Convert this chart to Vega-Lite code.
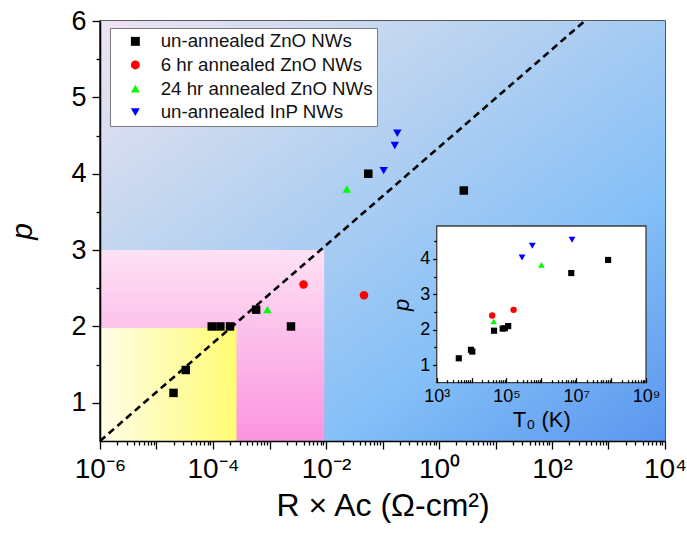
{
  "$schema": "https://vega.github.io/schema/vega-lite/v6.json",
  "width": 565,
  "height": 420,
  "autosize": "none",
  "padding": {"left": 100, "top": 21, "right": 22, "bottom": 104},
  "background": "white",
  "datasets": {
    "contact": [
      {"series": "un-annealed ZnO NWs", "rac": 2.0e-5, "p": 1.13},
      {"series": "un-annealed ZnO NWs", "rac": 3.3e-5, "p": 1.43},
      {"series": "un-annealed ZnO NWs", "rac": 9.5e-5, "p": 2.0},
      {"series": "un-annealed ZnO NWs", "rac": 1.35e-4, "p": 2.0},
      {"series": "un-annealed ZnO NWs", "rac": 2.0e-4, "p": 2.0},
      {"series": "un-annealed ZnO NWs", "rac": 5.8e-4, "p": 2.22},
      {"series": "un-annealed ZnO NWs", "rac": 2.4e-3, "p": 2.0},
      {"series": "un-annealed ZnO NWs", "rac": 0.056, "p": 4.0},
      {"series": "un-annealed ZnO NWs", "rac": 2.75, "p": 3.78},
      {"series": "6 hr annealed ZnO NWs", "rac": 4.0e-3, "p": 2.55},
      {"series": "6 hr annealed ZnO NWs", "rac": 0.047, "p": 2.41},
      {"series": "24 hr annealed ZnO NWs", "rac": 9.2e-4, "p": 2.22},
      {"series": "24 hr annealed ZnO NWs", "rac": 0.0234, "p": 3.8},
      {"series": "un-annealed InP NWs", "rac": 0.105, "p": 4.04},
      {"series": "un-annealed InP NWs", "rac": 0.165, "p": 4.37},
      {"series": "un-annealed InP NWs", "rac": 0.183, "p": 4.53}
    ],
    "fit": [
      {"rac": 1e-6, "p": 0.5},
      {"rac": 380, "p": 6.0}
    ],
    "hopping": [
      {"series": "un-annealed ZnO NWs", "t0": 4.3e3, "p": 1.19},
      {"series": "un-annealed ZnO NWs", "t0": 9.6e3, "p": 1.43},
      {"series": "un-annealed ZnO NWs", "t0": 1.05e4, "p": 1.38},
      {"series": "un-annealed ZnO NWs", "t0": 4.4e4, "p": 1.97},
      {"series": "un-annealed ZnO NWs", "t0": 7.8e4, "p": 2.03},
      {"series": "un-annealed ZnO NWs", "t0": 9.0e4, "p": 2.04},
      {"series": "un-annealed ZnO NWs", "t0": 1.12e5, "p": 2.1},
      {"series": "un-annealed ZnO NWs", "t0": 7.2e6, "p": 3.6},
      {"series": "un-annealed ZnO NWs", "t0": 8.2e7, "p": 3.97},
      {"series": "6 hr annealed ZnO NWs", "t0": 3.9e4, "p": 2.4},
      {"series": "6 hr annealed ZnO NWs", "t0": 1.6e5, "p": 2.56},
      {"series": "24 hr annealed ZnO NWs", "t0": 4.3e4, "p": 2.23},
      {"series": "24 hr annealed ZnO NWs", "t0": 1.0e6, "p": 3.83},
      {"series": "un-annealed InP NWs", "t0": 2.8e5, "p": 4.04},
      {"series": "un-annealed InP NWs", "t0": 5.5e5, "p": 4.37},
      {"series": "un-annealed InP NWs", "t0": 7.6e6, "p": 4.54}
    ]
  },
  "layer": [
    {
      "layer": [
        {
          "data": {"values": [{}]},
          "mark": {
            "type": "rect",
            "fill": {
              "gradient": "linear", "x1": 0, "y1": 0, "x2": 1, "y2": 1,
              "stops": [
                {"offset": 0, "color": "#eee3f4"},
                {"offset": 0.25, "color": "#c7d8ef"},
                {"offset": 0.5, "color": "#a3caf3"},
                {"offset": 0.7, "color": "#85c0f8"},
                {"offset": 1, "color": "#5a96ee"}
              ]
            }
          },
          "encoding": {
            "x": {"datum": 1e-6, "type": "quantitative", "axis": null},
            "x2": {"datum": 1e4},
            "y": {"datum": 0.5, "type": "quantitative", "axis": null},
            "y2": {"datum": 6}
          }
        },
        {
          "data": {"values": [{}]},
          "mark": {
            "type": "rect",
            "fill": {
              "gradient": "linear", "x1": 0, "y1": 0, "x2": 0, "y2": 1,
              "stops": [
                {"offset": 0, "color": "#fee1f4"},
                {"offset": 1, "color": "#fb94df"}
              ]
            }
          },
          "encoding": {
            "x": {"datum": 1e-6, "type": "quantitative", "axis": null},
            "x2": {"datum": 0.0093},
            "y": {"datum": 0.5, "type": "quantitative", "axis": null},
            "y2": {"datum": 3}
          }
        },
        {
          "data": {"values": [{}]},
          "mark": {
            "type": "rect",
            "fill": {
              "gradient": "linear", "x1": 0, "y1": 0, "x2": 1, "y2": 0,
              "stops": [
                {"offset": 0, "color": "#fffde8"},
                {"offset": 1, "color": "#fffc72"}
              ]
            }
          },
          "encoding": {
            "x": {"datum": 1e-6, "type": "quantitative", "axis": null},
            "x2": {"datum": 2.6e-4},
            "y": {"datum": 0.5, "type": "quantitative", "axis": null},
            "y2": {"datum": 1.98}
          }
        },
        {
          "data": {"name": "fit"},
          "mark": {"type": "line", "color": "black", "strokeWidth": 2.6, "strokeDash": [7, 4.5], "clip": true},
          "encoding": {
            "x": {
              "field": "rac", "type": "quantitative",
              "axis": {
                "orient": "bottom", "zindex": 1, "title": null, "labels": false, "domain": false, "grid": false,
                "tickSize": 4,
                "values": [2e-6, 3e-6, 4e-6, 5e-6, 6e-6, 7e-6, 8e-6, 9e-6,
                           2e-5, 3e-5, 4e-5, 5e-5, 6e-5, 7e-5, 8e-5, 9e-5,
                           2e-4, 3e-4, 4e-4, 5e-4, 6e-4, 7e-4, 8e-4, 9e-4,
                           2e-3, 3e-3, 4e-3, 5e-3, 6e-3, 7e-3, 8e-3, 9e-3,
                           2e-2, 3e-2, 4e-2, 5e-2, 6e-2, 7e-2, 8e-2, 9e-2,
                           0.2, 0.3, 0.4, 0.5, 0.6, 0.7, 0.8, 0.9,
                           2, 3, 4, 5, 6, 7, 8, 9,
                           20, 30, 40, 50, 60, 70, 80, 90,
                           200, 300, 400, 500, 600, 700, 800, 900,
                           2000, 3000, 4000, 5000, 6000, 7000, 8000, 9000]
              }
            },
            "y": {
              "field": "p", "type": "quantitative",
              "axis": {
                "orient": "left", "zindex": 1, "title": null, "labels": false, "domain": false, "grid": false,
                "tickSize": 4,
                "values": [1.5, 2.5, 3.5, 4.5, 5.5]
              }
            }
          }
        },
        {
          "data": {"name": "contact"},
          "mark": {"type": "point", "filled": true, "opacity": 1, "strokeWidth": 0},
          "encoding": {
            "x": {
              "field": "rac", "type": "quantitative",
              "scale": {"type": "log", "domain": [1e-6, 1e4], "nice": false},
              "axis": {
                "orient": "bottom", "zindex": 1,
                "title": "R × Aᴄ (Ω-cm²)",
                "titleFontSize": 32, "titleFontWeight": "normal", "titlePadding": 7,
                "labelFontSize": 28, "labelPadding": 6, "labelFlush": false, "labelOverlap": false,
                "grid": false, "tickSize": 8,
                "values": [1e-6, 1e-5, 1e-4, 1e-3, 1e-2, 0.1, 1, 10, 100, 1000, 10000],
                "labelExpr": "round(log(datum.value)/LN10) == -6 ? '10⁻⁶' : round(log(datum.value)/LN10) == -4 ? '10⁻⁴' : round(log(datum.value)/LN10) == -2 ? '10⁻²' : round(log(datum.value)/LN10) == 0 ? '10⁰' : round(log(datum.value)/LN10) == 2 ? '10²' : round(log(datum.value)/LN10) == 4 ? '10⁴' : ''"
              }
            },
            "y": {
              "field": "p", "type": "quantitative",
              "scale": {"domain": [0.5, 6], "nice": false, "zero": false},
              "axis": {
                "orient": "left", "zindex": 1,
                "title": "p",
                "titleFontStyle": "italic", "titleFontWeight": "normal", "titleFontSize": 30, "titlePadding": 33,
                "labelFontSize": 27, "labelPadding": 6, "grid": false, "labelOverlap": false,
                "tickSize": 8, "format": "d",
                "values": [1, 2, 3, 4, 5, 6]
              }
            },
            "color": {
              "field": "series", "type": "nominal",
              "scale": {
                "domain": ["un-annealed ZnO NWs", "6 hr annealed ZnO NWs", "24 hr annealed ZnO NWs", "un-annealed InP NWs"],
                "range": ["#000000", "#ff0000", "#00ff00", "#0000ff"]
              },
              "legend": {"title": null}
            },
            "shape": {
              "field": "series", "type": "nominal",
              "scale": {
                "domain": ["un-annealed ZnO NWs", "6 hr annealed ZnO NWs", "24 hr annealed ZnO NWs", "un-annealed InP NWs"],
                "range": ["square", "circle", "triangle-up", "triangle-down"]
              },
              "legend": {"title": null}
            },
            "size": {
              "field": "series", "type": "ordinal",
              "scale": {
                "domain": ["un-annealed ZnO NWs", "6 hr annealed ZnO NWs", "24 hr annealed ZnO NWs", "un-annealed InP NWs"],
                "range": [72, 72, 135, 135]
              },
              "legend": null
            }
          }
        }
      ],
      "resolve": {"axis": {"x": "independent", "y": "independent"}}
    },
    {
      "layer": [
        {
          "data": {"values": [{}]},
          "mark": {"type": "rect", "fill": "white", "stroke": "#3c3c3c", "strokeWidth": 1.3},
          "encoding": {
            "x": {"datum": 1e3, "type": "quantitative"},
            "x2": {"datum": 1e9},
            "y": {"datum": 0.5, "type": "quantitative"},
            "y2": {"datum": 4.93}
          }
        },
        {
          "data": {"name": "hopping"},
          "mark": {"type": "point", "filled": true, "opacity": 1, "strokeWidth": 0},
          "encoding": {
            "x": {
              "field": "t0", "type": "quantitative",
              "scale": {"type": "log", "domain": [1e3, 1e9], "nice": false, "range": [336.7, 546]},
              "axis": {
                "zindex": 2,
                "orient": "bottom", "offset": -58.3, "domain": false,
                "title": "T₀ (K)", "titleFontSize": 22, "titleFontWeight": "normal", "titlePadding": 2,
                "labelFontSize": 18, "labelPadding": 10, "labelFlush": false, "labelOverlap": false, "grid": false,
                "values": [1e3, 2e3, 3e3, 4e3, 5e3, 6e3, 7e3, 8e3, 9e3,
                           1e4, 2e4, 3e4, 4e4, 5e4, 6e4, 7e4, 8e4, 9e4,
                           1e5, 2e5, 3e5, 4e5, 5e5, 6e5, 7e5, 8e5, 9e5,
                           1e6, 2e6, 3e6, 4e6, 5e6, 6e6, 7e6, 8e6, 9e6,
                           1e7, 2e7, 3e7, 4e7, 5e7, 6e7, 7e7, 8e7, 9e7,
                           1e8, 2e8, 3e8, 4e8, 5e8, 6e8, 7e8, 8e8, 9e8, 1e9],
                "tickSize": {"condition": {"test": "abs(log(datum.value)/LN10 - round(log(datum.value)/LN10)) < 0.001", "value": -5}, "value": -3},
                "labelExpr": "abs(log(datum.value)/LN10 - round(log(datum.value)/LN10)) > 0.001 ? '' : round(log(datum.value)/LN10) == 3 ? '10³' : round(log(datum.value)/LN10) == 5 ? '10⁵' : round(log(datum.value)/LN10) == 7 ? '10⁷' : round(log(datum.value)/LN10) == 9 ? '10⁹' : ''"
              }
            },
            "y": {
              "field": "p", "type": "quantitative",
              "scale": {"domain": [0.5, 4.93], "nice": false, "zero": false, "range": [361.7, 205]},
              "axis": {
                "zindex": 2,
                "orient": "left", "offset": -336.7, "domain": false,
                "title": "p", "titleFontStyle": "italic", "titleFontWeight": "normal", "titleFontSize": 22, "titlePadding": 6,
                "labelFontSize": 18, "labelPadding": 3, "grid": false, "labelOverlap": false,
                "values": [1, 1.5, 2, 2.5, 3, 3.5, 4, 4.5],
                "tickSize": {"condition": {"test": "round(datum.value) == datum.value", "value": 4}, "value": 3},
                "labelExpr": "round(datum.value) == datum.value ? format(datum.value, 'd') : ''"
              }
            },
            "color": {"field": "series", "type": "nominal"},
            "shape": {"field": "series", "type": "nominal"},
            "size": {
              "field": "series", "type": "ordinal",
              "scale": {
                "domain": ["un-annealed ZnO NWs", "6 hr annealed ZnO NWs", "24 hr annealed ZnO NWs", "un-annealed InP NWs"],
                "range": [38, 46, 75, 75]
              },
              "legend": null
            }
          }
        }
      ]
    }
  ],
  "resolve": {"scale": {"x": "independent", "y": "independent", "size": "independent"}},
  "config": {
    "font": "Liberation Sans",
    "view": {"stroke": "#222222", "strokeWidth": 1.5},
    "axis": {
      "labelColor": "black", "titleColor": "black", "tickColor": "black", "domainColor": "black",
      "domainWidth": 1.5, "tickWidth": 1.3, "labelFont": "Liberation Sans", "titleFont": "Liberation Sans"
    },
    "legend": {
      "orient": "none", "legendX": 10, "legendY": 7,
      "fillColor": "white", "strokeColor": "#7a7a7a", "strokeWidth": 1,
      "padding": 4, "rowPadding": 3.6, "labelLimit": 400,
      "labelFont": "Liberation Sans", "labelFontSize": 18.7, "labelColor": "#111111",
      "symbolSize": 80, "symbolOffset": 12, "labelOffset": 16, "symbolStrokeWidth": 0
    }
  }
}
